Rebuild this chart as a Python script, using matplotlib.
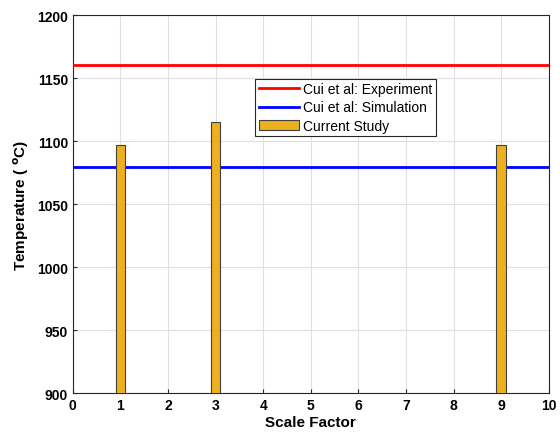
import numpy as np
import matplotlib
matplotlib.use('Agg')
import matplotlib.pyplot as plt

# data
scale_factor = [1, 3, 9]
temperature = [1097, 1115, 1097]
cui_experiment = 1160
cui_simulation = 1079

plt.rcParams['font.family'] = ['Liberation Sans', 'DejaVu Sans']

fig = plt.figure(figsize=(5.6, 4.39), dpi=100)
ax = fig.add_axes([0.130, 0.1025, 0.850, 0.861])

ax.axhline(cui_experiment, color='#ff0000', lw=2, label='Cui et al: Experiment', zorder=3)
ax.axhline(cui_simulation, color='#0000ff', lw=2, label='Cui et al: Simulation', zorder=3)
ax.bar(scale_factor, temperature, width=0.2, color='#edb120', edgecolor='#404040',
       lw=0.8, label='Current Study', zorder=4)

ax.set_xlim(0, 10)
ax.set_ylim(900, 1200)
ax.set_xticks(np.arange(0, 11, 1))
ax.set_yticks(np.arange(900, 1201, 50))
ax.grid(True, color='#e0e0e0', lw=0.8, zorder=0)
ax.set_axisbelow(True)
for s in ax.spines.values():
    s.set_color('#262626')
    s.set_linewidth(0.8)
ax.tick_params(direction='in', length=3, color='#262626', labelsize=10)
for lab in ax.get_xticklabels() + ax.get_yticklabels():
    lab.set_fontweight('bold')

ax.set_xlabel('Scale Factor', fontsize=11, fontweight='bold', labelpad=2)
ax.set_ylabel('Temperature ( $^\\mathbf{o}$C)', fontsize=11, fontweight='bold', labelpad=4)

leg = ax.legend(loc='upper left', bbox_to_anchor=(0.383, 0.832), fontsize=10,
                frameon=True, fancybox=False, edgecolor='#262626', framealpha=1,
                handlelength=2.9, borderpad=0.25, labelspacing=0.32, handletextpad=0.3,
                borderaxespad=0)
leg.get_frame().set_linewidth(0.8)

fig.savefig('out.png', dpi=100)
